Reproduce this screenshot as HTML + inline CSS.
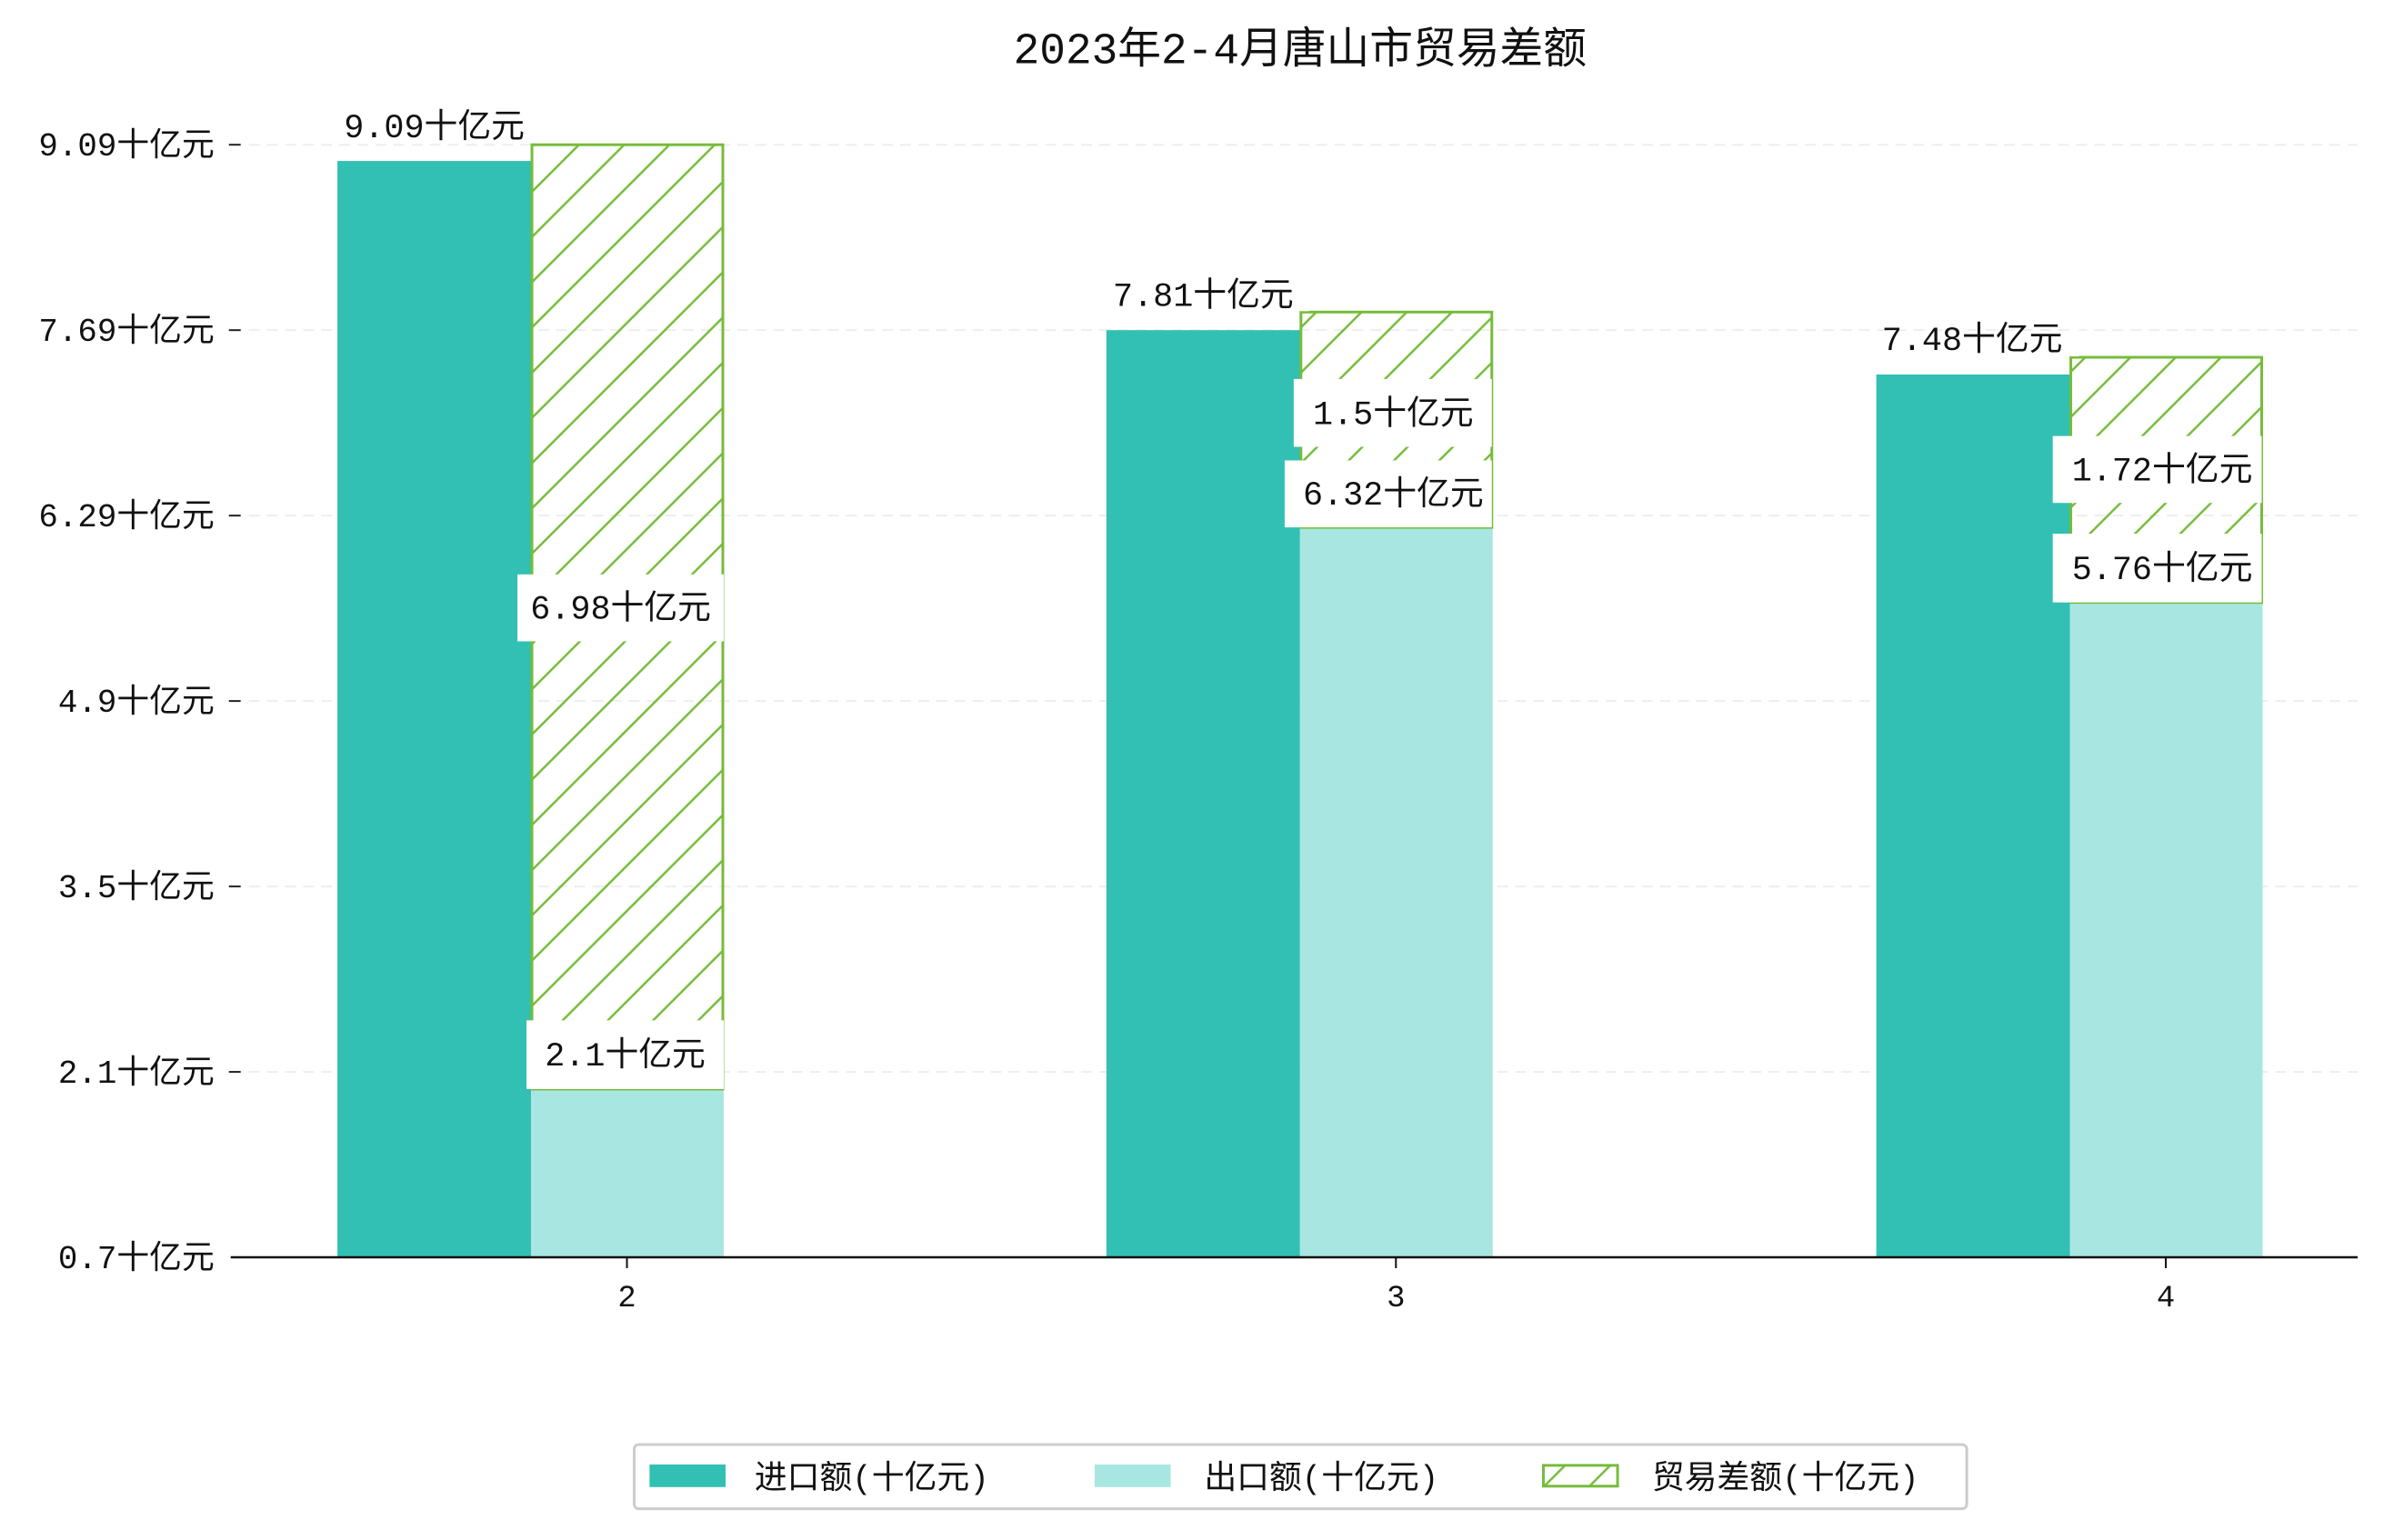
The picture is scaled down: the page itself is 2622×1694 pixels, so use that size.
<!DOCTYPE html>
<html><head><meta charset="utf-8"><style>
html,body{margin:0;padding:0;background:#fff}
svg text{font-family:"Liberation Mono","Noto Sans CJK SC",sans-serif;fill:#111}
</style></head><body>
<svg width="2622" height="1689" viewBox="0 0 2622 1689" xmlns="http://www.w3.org/2000/svg">
<defs>
<pattern id="h" patternUnits="userSpaceOnUse" width="50" height="50">
<path d="M-10,60 L60,-10 M-10,10 L10,-10 M40,60 L60,40" stroke="#76bc3a" stroke-width="2.5"/>
</pattern>
</defs>
<rect width="2622" height="1689" fill="#fff"/>
<g transform="scale(0.995)">
<text x="1437" y="70" font-size="48" text-anchor="middle">2023年2-4月唐山市贸易差额</text>
<g stroke="#eeeeee" stroke-width="2" stroke-dasharray="12,8">
<line x1="255" x2="2606" y1="160" y2="160"/><line x1="255" x2="2606" y1="365" y2="365"/>
<line x1="255" x2="2606" y1="570" y2="570"/><line x1="255" x2="2606" y1="775" y2="775"/>
<line x1="255" x2="2606" y1="980" y2="980"/><line x1="255" x2="2606" y1="1185" y2="1185"/>
</g>
<g font-size="36" text-anchor="end">
<text x="237" y="172">9.09十亿元</text><text x="237" y="377">7.69十亿元</text>
<text x="237" y="582">6.29十亿元</text><text x="237" y="787">4.9十亿元</text>
<text x="237" y="992">3.5十亿元</text><text x="237" y="1197">2.1十亿元</text>
<text x="237" y="1402">0.7十亿元</text>
</g>
<g stroke="#222" stroke-width="2">
<line x1="253" x2="266" y1="160" y2="160"/><line x1="253" x2="266" y1="365" y2="365"/>
<line x1="253" x2="266" y1="570" y2="570"/><line x1="253" x2="266" y1="775" y2="775"/>
<line x1="253" x2="266" y1="980" y2="980"/><line x1="253" x2="266" y1="1185" y2="1185"/>
</g>
<g fill="#31c0b3">
<rect x="373" y="178" width="214" height="1212"/>
<rect x="1223" y="365" width="214" height="1025"/>
<rect x="2074" y="414" width="214" height="976"/>
</g>
<g fill="#a8e7e1">
<rect x="587" y="1204" width="213" height="186"/>
<rect x="1437" y="583" width="213" height="807"/>
<rect x="2288" y="666" width="213" height="724"/>
</g>
<g fill="url(#h)" stroke="#76bc3a" stroke-width="3">
<rect x="588" y="160" width="211" height="1044"/>
<rect x="1438" y="345" width="211" height="238"/>
<rect x="2289" y="395" width="211" height="271"/>
</g>
<g fill="#fff">
<rect x="572" y="635" width="228" height="74"/>
<rect x="582" y="1128" width="218" height="76"/>
<rect x="1430" y="419" width="219" height="75"/>
<rect x="1420" y="509" width="229" height="74"/>
<rect x="2269" y="482" width="231" height="74"/>
<rect x="2269" y="590" width="231" height="76"/>
<rect x="1437" y="300" width="10" height="44"/>
<rect x="590" y="110" width="10" height="48"/>
<rect x="2288" y="350" width="10" height="44"/>
</g>
<g font-size="37" text-anchor="middle">
<text x="480" y="152">9.09十亿元</text>
<text x="686" y="684">6.98十亿元</text>
<text x="691" y="1178">2.1十亿元</text>
<text x="1330" y="338">7.81十亿元</text>
<text x="1540" y="469">1.5十亿元</text>
<text x="1540" y="558">6.32十亿元</text>
<text x="2180" y="387">7.48十亿元</text>
<text x="2390" y="531">1.72十亿元</text>
<text x="2390" y="640">5.76十亿元</text>
</g>
<line x1="255" x2="2606" y1="1390" y2="1390" stroke="#111" stroke-width="2.5"/>
<g stroke="#111" stroke-width="2">
<line x1="693" x2="693" y1="1390" y2="1402"/><line x1="1543" x2="1543" y1="1390" y2="1402"/><line x1="2394" x2="2394" y1="1390" y2="1402"/>
</g>
<g font-size="34" text-anchor="middle">
<text x="693" y="1444">2</text><text x="1543" y="1444">3</text><text x="2394" y="1444">4</text>
</g>
<rect x="701" y="1597" width="1473" height="71" rx="5" fill="#fff" stroke="#cccccc" stroke-width="3"/>
<rect x="718" y="1619" width="84" height="25" fill="#31c0b3"/>
<rect x="1210" y="1619" width="84" height="25" fill="#a8e7e1"/>
<rect x="1706" y="1620" width="82" height="23" fill="url(#h)" stroke="#76bc3a" stroke-width="3"/>
<g font-size="36">
<text x="834" y="1645">进口额(十亿元)</text>
<text x="1331" y="1645">出口额(十亿元)</text>
<text x="1826" y="1645">贸易差额(十亿元)</text>
</g>
</g>
</svg>
</body></html>
